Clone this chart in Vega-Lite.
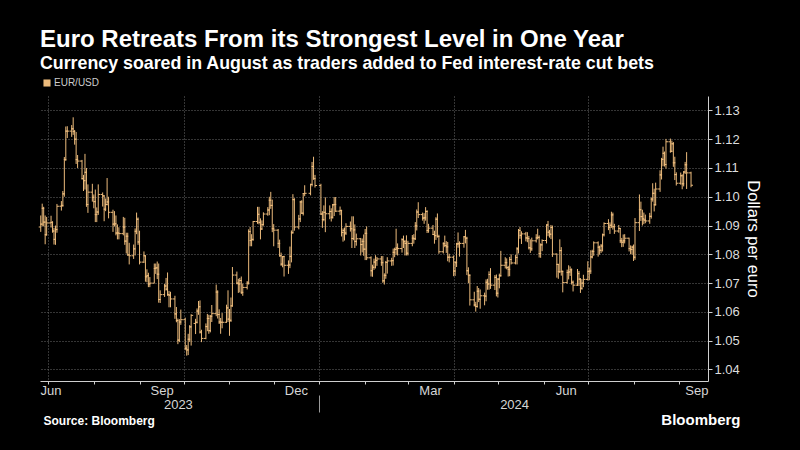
{
"$schema":"https://vega.github.io/schema/vega-lite/v6.json",
"width":668,"height":285,
"autosize":{"type":"none"},
"padding":{"left":40,"top":96,"right":92,"bottom":69},
"background":"#000000",
"title":{"text":"Euro Retreats From its Strongest Level in One Year","subtitle":"Currency soared in August as traders added to Fed interest-rate cut bets","anchor":"start","frame":"group","font":"Liberation Sans","fontSize":24,"fontWeight":"bold","color":"#ffffff","subtitleFont":"Liberation Sans","subtitleFontSize":17.8,"subtitleFontWeight":"bold","subtitleColor":"#ffffff","subtitlePadding":3,"offset":5},
"data":{"values":[
{"d":"2023-06-26","o":1.0895,"h":1.0935,"l":1.0878,"c":1.0905},
{"d":"2023-06-27","o":1.0905,"h":1.0976,"l":1.0898,"c":1.0960},
{"d":"2023-06-28","o":1.0960,"h":1.0965,"l":1.0897,"c":1.0912},
{"d":"2023-06-29","o":1.0912,"h":1.0935,"l":1.0835,"c":1.0868},
{"d":"2023-06-30","o":1.0868,"h":1.0930,"l":1.0865,"c":1.0909},
{"d":"2023-07-03","o":1.0909,"h":1.0934,"l":1.0893,"c":1.0911},
{"d":"2023-07-04","o":1.0911,"h":1.0915,"l":1.0875,"c":1.0881},
{"d":"2023-07-05","o":1.0881,"h":1.0892,"l":1.0834,"c":1.0852},
{"d":"2023-07-06","o":1.0852,"h":1.0900,"l":1.0833,"c":1.0886},
{"d":"2023-07-07","o":1.0886,"h":1.0975,"l":1.0875,"c":1.0967},
{"d":"2023-07-10","o":1.0967,"h":1.0985,"l":1.0952,"c":1.0970},
{"d":"2023-07-11","o":1.0970,"h":1.1020,"l":1.0965,"c":1.1010},
{"d":"2023-07-12","o":1.1010,"h":1.1138,"l":1.1000,"c":1.1129},
{"d":"2023-07-13","o":1.1129,"h":1.1244,"l":1.1125,"c":1.1228},
{"d":"2023-07-14","o":1.1228,"h":1.1245,"l":1.1204,"c":1.1228},
{"d":"2023-07-17","o":1.1228,"h":1.1249,"l":1.1208,"c":1.1236},
{"d":"2023-07-18","o":1.1236,"h":1.1276,"l":1.1215,"c":1.1227},
{"d":"2023-07-19","o":1.1227,"h":1.1232,"l":1.1181,"c":1.1200},
{"d":"2023-07-20","o":1.1200,"h":1.1225,"l":1.1114,"c":1.1129},
{"d":"2023-07-21","o":1.1129,"h":1.1145,"l":1.1100,"c":1.1124},
{"d":"2023-07-24","o":1.1124,"h":1.1128,"l":1.1060,"c":1.1063},
{"d":"2023-07-25","o":1.1063,"h":1.1076,"l":1.1020,"c":1.1056},
{"d":"2023-07-26","o":1.1056,"h":1.1149,"l":1.1025,"c":1.1085},
{"d":"2023-07-27","o":1.1085,"h":1.1100,"l":1.0965,"c":1.0973},
{"d":"2023-07-28","o":1.0973,"h":1.1043,"l":1.0944,"c":1.1016},
{"d":"2023-07-31","o":1.1016,"h":1.1045,"l":1.0983,"c":1.0998},
{"d":"2023-08-01","o":1.0998,"h":1.1008,"l":1.0960,"c":1.0983},
{"d":"2023-08-02","o":1.0983,"h":1.1025,"l":1.0912,"c":1.0938},
{"d":"2023-08-03","o":1.0938,"h":1.0963,"l":1.0912,"c":1.0947},
{"d":"2023-08-04","o":1.0947,"h":1.1043,"l":1.0937,"c":1.1008},
{"d":"2023-08-07","o":1.1008,"h":1.1015,"l":1.0966,"c":1.1003},
{"d":"2023-08-08","o":1.1003,"h":1.1005,"l":1.0915,"c":1.0957},
{"d":"2023-08-09","o":1.0957,"h":1.0994,"l":1.0950,"c":1.0973},
{"d":"2023-08-10","o":1.0973,"h":1.1065,"l":1.0970,"c":1.0982},
{"d":"2023-08-11","o":1.0982,"h":1.1000,"l":1.0925,"c":1.0946},
{"d":"2023-08-14","o":1.0946,"h":1.0955,"l":1.0878,"c":1.0905},
{"d":"2023-08-15","o":1.0905,"h":1.0950,"l":1.0897,"c":1.0906},
{"d":"2023-08-16","o":1.0906,"h":1.0935,"l":1.0866,"c":1.0874},
{"d":"2023-08-17","o":1.0874,"h":1.0904,"l":1.0852,"c":1.0874},
{"d":"2023-08-18","o":1.0874,"h":1.0894,"l":1.0852,"c":1.0872},
{"d":"2023-08-21","o":1.0872,"h":1.0930,"l":1.0866,"c":1.0895},
{"d":"2023-08-22","o":1.0895,"h":1.0927,"l":1.0833,"c":1.0846},
{"d":"2023-08-23","o":1.0846,"h":1.0875,"l":1.0803,"c":1.0863},
{"d":"2023-08-24","o":1.0863,"h":1.0875,"l":1.0795,"c":1.0798},
{"d":"2023-08-25","o":1.0798,"h":1.0840,"l":1.0765,"c":1.0795},
{"d":"2023-08-28","o":1.0795,"h":1.0834,"l":1.0784,"c":1.0819},
{"d":"2023-08-29","o":1.0819,"h":1.0890,"l":1.0796,"c":1.0880},
{"d":"2023-08-30","o":1.0880,"h":1.0945,"l":1.0870,"c":1.0922},
{"d":"2023-08-31","o":1.0922,"h":1.0928,"l":1.0833,"c":1.0843},
{"d":"2023-09-01","o":1.0843,"h":1.0882,"l":1.0765,"c":1.0773},
{"d":"2023-09-04","o":1.0773,"h":1.0810,"l":1.0770,"c":1.0795},
{"d":"2023-09-05","o":1.0795,"h":1.0796,"l":1.0705,"c":1.0722},
{"d":"2023-09-06","o":1.0722,"h":1.0748,"l":1.0703,"c":1.0726},
{"d":"2023-09-07","o":1.0726,"h":1.0736,"l":1.0686,"c":1.0697},
{"d":"2023-09-08","o":1.0697,"h":1.0721,"l":1.0686,"c":1.0700},
{"d":"2023-09-11","o":1.0700,"h":1.0768,"l":1.0699,"c":1.0751},
{"d":"2023-09-12","o":1.0751,"h":1.0768,"l":1.0732,"c":1.0753},
{"d":"2023-09-13","o":1.0753,"h":1.0775,"l":1.0714,"c":1.0731},
{"d":"2023-09-14","o":1.0731,"h":1.0768,"l":1.0632,"c":1.0643},
{"d":"2023-09-15","o":1.0643,"h":1.0675,"l":1.0631,"c":1.0660},
{"d":"2023-09-18","o":1.0660,"h":1.0697,"l":1.0652,"c":1.0690},
{"d":"2023-09-19","o":1.0690,"h":1.0718,"l":1.0674,"c":1.0679},
{"d":"2023-09-20","o":1.0679,"h":1.0737,"l":1.0656,"c":1.0660},
{"d":"2023-09-21","o":1.0660,"h":1.0673,"l":1.0616,"c":1.0658},
{"d":"2023-09-22","o":1.0658,"h":1.0670,"l":1.0616,"c":1.0645},
{"d":"2023-09-25","o":1.0645,"h":1.0656,"l":1.0576,"c":1.0593},
{"d":"2023-09-26","o":1.0593,"h":1.0617,"l":1.0564,"c":1.0570},
{"d":"2023-09-27","o":1.0570,"h":1.0577,"l":1.0488,"c":1.0502},
{"d":"2023-09-28","o":1.0502,"h":1.0575,"l":1.0495,"c":1.0565},
{"d":"2023-09-29","o":1.0565,"h":1.0608,"l":1.0555,"c":1.0573},
{"d":"2023-10-02","o":1.0573,"h":1.0580,"l":1.0467,"c":1.0474},
{"d":"2023-10-03","o":1.0474,"h":1.0485,"l":1.0448,"c":1.0468},
{"d":"2023-10-04","o":1.0468,"h":1.0524,"l":1.0450,"c":1.0505},
{"d":"2023-10-05","o":1.0505,"h":1.0554,"l":1.0496,"c":1.0548},
{"d":"2023-10-06","o":1.0548,"h":1.0592,"l":1.0483,"c":1.0588},
{"d":"2023-10-09","o":1.0560,"h":1.0576,"l":1.0523,"c":1.0564},
{"d":"2023-10-10","o":1.0564,"h":1.0612,"l":1.0560,"c":1.0603},
{"d":"2023-10-11","o":1.0603,"h":1.0638,"l":1.0590,"c":1.0618},
{"d":"2023-10-12","o":1.0618,"h":1.0640,"l":1.0525,"c":1.0530},
{"d":"2023-10-13","o":1.0530,"h":1.0538,"l":1.0495,"c":1.0508},
{"d":"2023-10-16","o":1.0508,"h":1.0560,"l":1.0505,"c":1.0549},
{"d":"2023-10-17","o":1.0549,"h":1.0593,"l":1.0533,"c":1.0577},
{"d":"2023-10-18","o":1.0577,"h":1.0590,"l":1.0524,"c":1.0535},
{"d":"2023-10-19","o":1.0535,"h":1.0589,"l":1.0529,"c":1.0585},
{"d":"2023-10-20","o":1.0585,"h":1.0624,"l":1.0565,"c":1.0594},
{"d":"2023-10-23","o":1.0594,"h":1.0695,"l":1.0585,"c":1.0669},
{"d":"2023-10-24","o":1.0669,"h":1.0675,"l":1.0577,"c":1.0591},
{"d":"2023-10-25","o":1.0591,"h":1.0609,"l":1.0558,"c":1.0565},
{"d":"2023-10-26","o":1.0565,"h":1.0579,"l":1.0524,"c":1.0564},
{"d":"2023-10-27","o":1.0564,"h":1.0596,"l":1.0543,"c":1.0564},
{"d":"2023-10-30","o":1.0564,"h":1.0625,"l":1.0562,"c":1.0614},
{"d":"2023-10-31","o":1.0614,"h":1.0675,"l":1.0565,"c":1.0575},
{"d":"2023-11-01","o":1.0575,"h":1.0610,"l":1.0517,"c":1.0571},
{"d":"2023-11-02","o":1.0571,"h":1.0650,"l":1.0565,"c":1.0621},
{"d":"2023-11-03","o":1.0621,"h":1.0756,"l":1.0618,"c":1.0728},
{"d":"2023-11-06","o":1.0728,"h":1.0740,"l":1.0696,"c":1.0700},
{"d":"2023-11-07","o":1.0700,"h":1.0715,"l":1.0666,"c":1.0697},
{"d":"2023-11-08","o":1.0697,"h":1.0718,"l":1.0668,"c":1.0709},
{"d":"2023-11-09","o":1.0709,"h":1.0723,"l":1.0662,"c":1.0668},
{"d":"2023-11-10","o":1.0668,"h":1.0698,"l":1.0656,"c":1.0685},
{"d":"2023-11-13","o":1.0685,"h":1.0707,"l":1.0678,"c":1.0700},
{"d":"2023-11-14","o":1.0700,"h":1.0887,"l":1.0695,"c":1.0879},
{"d":"2023-11-15","o":1.0879,"h":1.0895,"l":1.0828,"c":1.0848},
{"d":"2023-11-16","o":1.0848,"h":1.0870,"l":1.0828,"c":1.0852},
{"d":"2023-11-17","o":1.0852,"h":1.0916,"l":1.0847,"c":1.0914},
{"d":"2023-11-20","o":1.0914,"h":1.0965,"l":1.0906,"c":1.0939},
{"d":"2023-11-21","o":1.0939,"h":1.0965,"l":1.0904,"c":1.0911},
{"d":"2023-11-22","o":1.0911,"h":1.0925,"l":1.0852,"c":1.0888},
{"d":"2023-11-23","o":1.0888,"h":1.0918,"l":1.0885,"c":1.0903},
{"d":"2023-11-24","o":1.0903,"h":1.0946,"l":1.0900,"c":1.0940},
{"d":"2023-11-27","o":1.0940,"h":1.0964,"l":1.0934,"c":1.0954},
{"d":"2023-11-28","o":1.0954,"h":1.1000,"l":1.0936,"c":1.0988},
{"d":"2023-11-29","o":1.0988,"h":1.1017,"l":1.0958,"c":1.0970},
{"d":"2023-11-30","o":1.0970,"h":1.0990,"l":1.0877,"c":1.0889},
{"d":"2023-12-01","o":1.0889,"h":1.0905,"l":1.0828,"c":1.0884},
{"d":"2023-12-04","o":1.0884,"h":1.0888,"l":1.0822,"c":1.0838},
{"d":"2023-12-05","o":1.0838,"h":1.0851,"l":1.0792,"c":1.0795},
{"d":"2023-12-06","o":1.0795,"h":1.0806,"l":1.0760,"c":1.0766},
{"d":"2023-12-07","o":1.0766,"h":1.0794,"l":1.0755,"c":1.0792},
{"d":"2023-12-08","o":1.0792,"h":1.0795,"l":1.0723,"c":1.0762},
{"d":"2023-12-11","o":1.0762,"h":1.0779,"l":1.0732,"c":1.0763},
{"d":"2023-12-12","o":1.0763,"h":1.0827,"l":1.0752,"c":1.0793},
{"d":"2023-12-13","o":1.0793,"h":1.0883,"l":1.0772,"c":1.0875},
{"d":"2023-12-14","o":1.0875,"h":1.1009,"l":1.0872,"c":1.0990},
{"d":"2023-12-15","o":1.0990,"h":1.0995,"l":1.0882,"c":1.0895},
{"d":"2023-12-18","o":1.0895,"h":1.0937,"l":1.0887,"c":1.0923},
{"d":"2023-12-19","o":1.0923,"h":1.0986,"l":1.0912,"c":1.0982},
{"d":"2023-12-20","o":1.0982,"h":1.0988,"l":1.0940,"c":1.0943},
{"d":"2023-12-21","o":1.0943,"h":1.1013,"l":1.0935,"c":1.1011},
{"d":"2023-12-22","o":1.1011,"h":1.1040,"l":1.1002,"c":1.1012},
{"d":"2023-12-26","o":1.1012,"h":1.1045,"l":1.1005,"c":1.1043},
{"d":"2023-12-27","o":1.1043,"h":1.1121,"l":1.1036,"c":1.1105},
{"d":"2023-12-28","o":1.1105,"h":1.1139,"l":1.1059,"c":1.1063},
{"d":"2023-12-29","o":1.1063,"h":1.1076,"l":1.1032,"c":1.1039},
{"d":"2024-01-02","o":1.1039,"h":1.1045,"l":1.0937,"c":1.0940},
{"d":"2024-01-03","o":1.0940,"h":1.0950,"l":1.0892,"c":1.0921},
{"d":"2024-01-04","o":1.0921,"h":1.0970,"l":1.0915,"c":1.0946},
{"d":"2024-01-05","o":1.0946,"h":1.0998,"l":1.0877,"c":1.0941},
{"d":"2024-01-08","o":1.0941,"h":1.0970,"l":1.0922,"c":1.0949},
{"d":"2024-01-09","o":1.0949,"h":1.0960,"l":1.0914,"c":1.0929},
{"d":"2024-01-10","o":1.0929,"h":1.0975,"l":1.0924,"c":1.0972},
{"d":"2024-01-11","o":1.0972,"h":1.0999,"l":1.0933,"c":1.0973},
{"d":"2024-01-12","o":1.0973,"h":1.0999,"l":1.0947,"c":1.0950},
{"d":"2024-01-15","o":1.0950,"h":1.0966,"l":1.0936,"c":1.0952},
{"d":"2024-01-16","o":1.0952,"h":1.0955,"l":1.0862,"c":1.0876},
{"d":"2024-01-17","o":1.0876,"h":1.0890,"l":1.0844,"c":1.0883},
{"d":"2024-01-18","o":1.0883,"h":1.0893,"l":1.0848,"c":1.0874},
{"d":"2024-01-19","o":1.0874,"h":1.0908,"l":1.0867,"c":1.0897},
{"d":"2024-01-22","o":1.0897,"h":1.0914,"l":1.0879,"c":1.0889},
{"d":"2024-01-23","o":1.0889,"h":1.0932,"l":1.0822,"c":1.0855},
{"d":"2024-01-24","o":1.0855,"h":1.0932,"l":1.0849,"c":1.0885},
{"d":"2024-01-25","o":1.0885,"h":1.0904,"l":1.0822,"c":1.0845},
{"d":"2024-01-26","o":1.0845,"h":1.0872,"l":1.0830,"c":1.0854},
{"d":"2024-01-29","o":1.0854,"h":1.0857,"l":1.0796,"c":1.0834},
{"d":"2024-01-30","o":1.0834,"h":1.0855,"l":1.0807,"c":1.0845},
{"d":"2024-01-31","o":1.0845,"h":1.0869,"l":1.0795,"c":1.0818},
{"d":"2024-02-01","o":1.0818,"h":1.0888,"l":1.0780,"c":1.0873},
{"d":"2024-02-02","o":1.0873,"h":1.0897,"l":1.0780,"c":1.0788},
{"d":"2024-02-05","o":1.0788,"h":1.0793,"l":1.0723,"c":1.0743},
{"d":"2024-02-06","o":1.0743,"h":1.0764,"l":1.0722,"c":1.0755},
{"d":"2024-02-07","o":1.0755,"h":1.0785,"l":1.0746,"c":1.0773},
{"d":"2024-02-08","o":1.0773,"h":1.0797,"l":1.0751,"c":1.0779},
{"d":"2024-02-09","o":1.0779,"h":1.0791,"l":1.0760,"c":1.0784},
{"d":"2024-02-12","o":1.0784,"h":1.0794,"l":1.0760,"c":1.0771},
{"d":"2024-02-13","o":1.0771,"h":1.0794,"l":1.0701,"c":1.0708},
{"d":"2024-02-14","o":1.0708,"h":1.0734,"l":1.0695,"c":1.0727},
{"d":"2024-02-15","o":1.0727,"h":1.0777,"l":1.0715,"c":1.0772},
{"d":"2024-02-16","o":1.0772,"h":1.0790,"l":1.0733,"c":1.0777},
{"d":"2024-02-19","o":1.0777,"h":1.0788,"l":1.0760,"c":1.0778},
{"d":"2024-02-20","o":1.0778,"h":1.0820,"l":1.0761,"c":1.0807},
{"d":"2024-02-21","o":1.0807,"h":1.0823,"l":1.0790,"c":1.0817},
{"d":"2024-02-22","o":1.0817,"h":1.0889,"l":1.0799,"c":1.0822},
{"d":"2024-02-23","o":1.0822,"h":1.0838,"l":1.0796,"c":1.0820},
{"d":"2024-02-26","o":1.0820,"h":1.0856,"l":1.0806,"c":1.0851},
{"d":"2024-02-27","o":1.0851,"h":1.0865,"l":1.0822,"c":1.0844},
{"d":"2024-02-28","o":1.0844,"h":1.0850,"l":1.0796,"c":1.0838},
{"d":"2024-02-29","o":1.0838,"h":1.0866,"l":1.0796,"c":1.0804},
{"d":"2024-03-01","o":1.0804,"h":1.0847,"l":1.0796,"c":1.0838},
{"d":"2024-03-04","o":1.0838,"h":1.0867,"l":1.0828,"c":1.0856},
{"d":"2024-03-05","o":1.0856,"h":1.0870,"l":1.0837,"c":1.0854},
{"d":"2024-03-06","o":1.0854,"h":1.0912,"l":1.0850,"c":1.0899},
{"d":"2024-03-07","o":1.0899,"h":1.0956,"l":1.0883,"c":1.0947},
{"d":"2024-03-08","o":1.0947,"h":1.0981,"l":1.0926,"c":1.0938},
{"d":"2024-03-11","o":1.0938,"h":1.0945,"l":1.0917,"c":1.0926},
{"d":"2024-03-12","o":1.0926,"h":1.0943,"l":1.0906,"c":1.0927},
{"d":"2024-03-13","o":1.0927,"h":1.0964,"l":1.0917,"c":1.0949},
{"d":"2024-03-14","o":1.0949,"h":1.0953,"l":1.0874,"c":1.0883},
{"d":"2024-03-15","o":1.0883,"h":1.0906,"l":1.0875,"c":1.0891},
{"d":"2024-03-18","o":1.0891,"h":1.0902,"l":1.0867,"c":1.0869},
{"d":"2024-03-19","o":1.0869,"h":1.0882,"l":1.0837,"c":1.0865},
{"d":"2024-03-20","o":1.0865,"h":1.0929,"l":1.0850,"c":1.0922},
{"d":"2024-03-21","o":1.0922,"h":1.0942,"l":1.0858,"c":1.0862},
{"d":"2024-03-22","o":1.0862,"h":1.0868,"l":1.0802,"c":1.0809},
{"d":"2024-03-25","o":1.0809,"h":1.0842,"l":1.0803,"c":1.0837},
{"d":"2024-03-26","o":1.0837,"h":1.0865,"l":1.0825,"c":1.0831},
{"d":"2024-03-27","o":1.0831,"h":1.0846,"l":1.0805,"c":1.0826},
{"d":"2024-03-28","o":1.0826,"h":1.0843,"l":1.0776,"c":1.0790},
{"d":"2024-03-29","o":1.0790,"h":1.0802,"l":1.0772,"c":1.0790},
{"d":"2024-04-01","o":1.0790,"h":1.0796,"l":1.0724,"c":1.0742},
{"d":"2024-04-02","o":1.0742,"h":1.0777,"l":1.0725,"c":1.0771},
{"d":"2024-04-03","o":1.0771,"h":1.0840,"l":1.0756,"c":1.0836},
{"d":"2024-04-04","o":1.0836,"h":1.0876,"l":1.0823,"c":1.0837},
{"d":"2024-04-05","o":1.0837,"h":1.0845,"l":1.0792,"c":1.0838},
{"d":"2024-04-08","o":1.0838,"h":1.0863,"l":1.0823,"c":1.0861},
{"d":"2024-04-09","o":1.0861,"h":1.0885,"l":1.0838,"c":1.0856},
{"d":"2024-04-10","o":1.0856,"h":1.0861,"l":1.0728,"c":1.0743},
{"d":"2024-04-11","o":1.0743,"h":1.0755,"l":1.0700,"c":1.0727},
{"d":"2024-04-12","o":1.0727,"h":1.0731,"l":1.0622,"c":1.0642},
{"d":"2024-04-15","o":1.0642,"h":1.0670,"l":1.0619,"c":1.0624},
{"d":"2024-04-16","o":1.0624,"h":1.0635,"l":1.0601,"c":1.0619},
{"d":"2024-04-17","o":1.0619,"h":1.0690,"l":1.0615,"c":1.0672},
{"d":"2024-04-18","o":1.0672,"h":1.0683,"l":1.0634,"c":1.0644},
{"d":"2024-04-19","o":1.0644,"h":1.0678,"l":1.0611,"c":1.0656},
{"d":"2024-04-22","o":1.0656,"h":1.0667,"l":1.0623,"c":1.0655},
{"d":"2024-04-23","o":1.0655,"h":1.0713,"l":1.0637,"c":1.0703},
{"d":"2024-04-24","o":1.0703,"h":1.0715,"l":1.0677,"c":1.0697},
{"d":"2024-04-25","o":1.0697,"h":1.0741,"l":1.0677,"c":1.0730},
{"d":"2024-04-26","o":1.0730,"h":1.0752,"l":1.0680,"c":1.0693},
{"d":"2024-04-29","o":1.0693,"h":1.0728,"l":1.0676,"c":1.0720},
{"d":"2024-04-30","o":1.0720,"h":1.0730,"l":1.0654,"c":1.0665},
{"d":"2024-05-01","o":1.0665,"h":1.0717,"l":1.0650,"c":1.0714},
{"d":"2024-05-02","o":1.0714,"h":1.0733,"l":1.0682,"c":1.0726},
{"d":"2024-05-03","o":1.0726,"h":1.0812,"l":1.0722,"c":1.0762},
{"d":"2024-05-06","o":1.0762,"h":1.0790,"l":1.0751,"c":1.0771},
{"d":"2024-05-07","o":1.0771,"h":1.0786,"l":1.0748,"c":1.0754},
{"d":"2024-05-08","o":1.0754,"h":1.0760,"l":1.0723,"c":1.0748},
{"d":"2024-05-09","o":1.0748,"h":1.0791,"l":1.0724,"c":1.0782},
{"d":"2024-05-10","o":1.0782,"h":1.0800,"l":1.0765,"c":1.0770},
{"d":"2024-05-13","o":1.0770,"h":1.0798,"l":1.0765,"c":1.0789},
{"d":"2024-05-14","o":1.0789,"h":1.0825,"l":1.0765,"c":1.0819},
{"d":"2024-05-15","o":1.0819,"h":1.0888,"l":1.0803,"c":1.0883},
{"d":"2024-05-16","o":1.0883,"h":1.0895,"l":1.0854,"c":1.0866},
{"d":"2024-05-17","o":1.0866,"h":1.0880,"l":1.0836,"c":1.0871},
{"d":"2024-05-20","o":1.0871,"h":1.0878,"l":1.0845,"c":1.0857},
{"d":"2024-05-21","o":1.0857,"h":1.0877,"l":1.0842,"c":1.0855},
{"d":"2024-05-22","o":1.0855,"h":1.0864,"l":1.0817,"c":1.0823},
{"d":"2024-05-23","o":1.0823,"h":1.0852,"l":1.0805,"c":1.0819},
{"d":"2024-05-24","o":1.0819,"h":1.0858,"l":1.0812,"c":1.0847},
{"d":"2024-05-27","o":1.0847,"h":1.0870,"l":1.0841,"c":1.0857},
{"d":"2024-05-28","o":1.0857,"h":1.0889,"l":1.0852,"c":1.0859},
{"d":"2024-05-29","o":1.0859,"h":1.0866,"l":1.0789,"c":1.0803},
{"d":"2024-05-30","o":1.0803,"h":1.0838,"l":1.0788,"c":1.0833},
{"d":"2024-05-31","o":1.0833,"h":1.0852,"l":1.0811,"c":1.0848},
{"d":"2024-06-03","o":1.0848,"h":1.0904,"l":1.0838,"c":1.0902},
{"d":"2024-06-04","o":1.0902,"h":1.0916,"l":1.0863,"c":1.0877},
{"d":"2024-06-05","o":1.0877,"h":1.0885,"l":1.0858,"c":1.0870},
{"d":"2024-06-06","o":1.0870,"h":1.0902,"l":1.0853,"c":1.0893},
{"d":"2024-06-07","o":1.0893,"h":1.0900,"l":1.0791,"c":1.0801},
{"d":"2024-06-10","o":1.0801,"h":1.0803,"l":1.0719,"c":1.0765},
{"d":"2024-06-11","o":1.0765,"h":1.0767,"l":1.0715,"c":1.0740},
{"d":"2024-06-12","o":1.0740,"h":1.0852,"l":1.0735,"c":1.0813},
{"d":"2024-06-13","o":1.0813,"h":1.0825,"l":1.0726,"c":1.0741},
{"d":"2024-06-14","o":1.0741,"h":1.0743,"l":1.0668,"c":1.0702},
{"d":"2024-06-17","o":1.0702,"h":1.0747,"l":1.0698,"c":1.0737},
{"d":"2024-06-18","o":1.0737,"h":1.0762,"l":1.0713,"c":1.0739},
{"d":"2024-06-19","o":1.0739,"h":1.0758,"l":1.0725,"c":1.0746},
{"d":"2024-06-20","o":1.0746,"h":1.0751,"l":1.0695,"c":1.0703},
{"d":"2024-06-21","o":1.0703,"h":1.0709,"l":1.0671,"c":1.0693},
{"d":"2024-06-24","o":1.0693,"h":1.0749,"l":1.0690,"c":1.0733},
{"d":"2024-06-25","o":1.0733,"h":1.0742,"l":1.0690,"c":1.0714},
{"d":"2024-06-26","o":1.0714,"h":1.0717,"l":1.0666,"c":1.0682},
{"d":"2024-06-27","o":1.0682,"h":1.0714,"l":1.0677,"c":1.0700},
{"d":"2024-06-28","o":1.0700,"h":1.0729,"l":1.0686,"c":1.0713},
{"d":"2024-07-01","o":1.0713,"h":1.0776,"l":1.0709,"c":1.0740},
{"d":"2024-07-02","o":1.0740,"h":1.0754,"l":1.0710,"c":1.0742},
{"d":"2024-07-03","o":1.0742,"h":1.0814,"l":1.0732,"c":1.0791},
{"d":"2024-07-04","o":1.0791,"h":1.0816,"l":1.0786,"c":1.0810},
{"d":"2024-07-05","o":1.0810,"h":1.0845,"l":1.0795,"c":1.0840},
{"d":"2024-07-08","o":1.0840,"h":1.0845,"l":1.0792,"c":1.0825},
{"d":"2024-07-09","o":1.0825,"h":1.0830,"l":1.0799,"c":1.0814},
{"d":"2024-07-10","o":1.0814,"h":1.0836,"l":1.0805,"c":1.0829},
{"d":"2024-07-11","o":1.0829,"h":1.0872,"l":1.0810,"c":1.0868},
{"d":"2024-07-12","o":1.0868,"h":1.0911,"l":1.0862,"c":1.0907},
{"d":"2024-07-15","o":1.0907,"h":1.0922,"l":1.0884,"c":1.0894},
{"d":"2024-07-16","o":1.0894,"h":1.0911,"l":1.0871,"c":1.0901},
{"d":"2024-07-17","o":1.0901,"h":1.0948,"l":1.0892,"c":1.0937},
{"d":"2024-07-18","o":1.0937,"h":1.0945,"l":1.0886,"c":1.0896},
{"d":"2024-07-19","o":1.0896,"h":1.0906,"l":1.0871,"c":1.0881},
{"d":"2024-07-22","o":1.0881,"h":1.0902,"l":1.0875,"c":1.0890},
{"d":"2024-07-23","o":1.0890,"h":1.0891,"l":1.0839,"c":1.0847},
{"d":"2024-07-24","o":1.0847,"h":1.0857,"l":1.0825,"c":1.0842},
{"d":"2024-07-25","o":1.0842,"h":1.0869,"l":1.0826,"c":1.0847},
{"d":"2024-07-26","o":1.0847,"h":1.0870,"l":1.0838,"c":1.0856},
{"d":"2024-07-29","o":1.0856,"h":1.0858,"l":1.0810,"c":1.0820},
{"d":"2024-07-30","o":1.0820,"h":1.0831,"l":1.0801,"c":1.0817},
{"d":"2024-07-31","o":1.0817,"h":1.0830,"l":1.0799,"c":1.0825},
{"d":"2024-08-01","o":1.0825,"h":1.0834,"l":1.0777,"c":1.0790},
{"d":"2024-08-02","o":1.0790,"h":1.0926,"l":1.0781,"c":1.0910},
{"d":"2024-08-05","o":1.0910,"h":1.1008,"l":1.0881,"c":1.0955},
{"d":"2024-08-06","o":1.0955,"h":1.0983,"l":1.0916,"c":1.0931},
{"d":"2024-08-07","o":1.0931,"h":1.0955,"l":1.0900,"c":1.0923},
{"d":"2024-08-08","o":1.0923,"h":1.0945,"l":1.0905,"c":1.0919},
{"d":"2024-08-09","o":1.0919,"h":1.0938,"l":1.0908,"c":1.0916},
{"d":"2024-08-12","o":1.0916,"h":1.0944,"l":1.0906,"c":1.0932},
{"d":"2024-08-13","o":1.0932,"h":1.0997,"l":1.0924,"c":1.0992},
{"d":"2024-08-14","o":1.0992,"h":1.1047,"l":1.0983,"c":1.1012},
{"d":"2024-08-15","o":1.1012,"h":1.1028,"l":1.0949,"c":1.0972},
{"d":"2024-08-16","o":1.0972,"h":1.1049,"l":1.0970,"c":1.1027},
{"d":"2024-08-19","o":1.1027,"h":1.1092,"l":1.1017,"c":1.1076},
{"d":"2024-08-20","o":1.1076,"h":1.1135,"l":1.1060,"c":1.1130},
{"d":"2024-08-21","o":1.1130,"h":1.1174,"l":1.1106,"c":1.1151},
{"d":"2024-08-22","o":1.1151,"h":1.1157,"l":1.1105,"c":1.1112},
{"d":"2024-08-23","o":1.1112,"h":1.1201,"l":1.1098,"c":1.1191},
{"d":"2024-08-26","o":1.1191,"h":1.1202,"l":1.1153,"c":1.1158},
{"d":"2024-08-27","o":1.1158,"h":1.1195,"l":1.1155,"c":1.1184},
{"d":"2024-08-28","o":1.1184,"h":1.1190,"l":1.1104,"c":1.1118},
{"d":"2024-08-29","o":1.1118,"h":1.1139,"l":1.1058,"c":1.1077},
{"d":"2024-08-30","o":1.1077,"h":1.1085,"l":1.1039,"c":1.1047},
{"d":"2024-09-02","o":1.1047,"h":1.1084,"l":1.1042,"c":1.1073},
{"d":"2024-09-03","o":1.1073,"h":1.1078,"l":1.1026,"c":1.1045},
{"d":"2024-09-04","o":1.1045,"h":1.1089,"l":1.1036,"c":1.1086},
{"d":"2024-09-05","o":1.1086,"h":1.1121,"l":1.1079,"c":1.1111},
{"d":"2024-09-06","o":1.1111,"h":1.1155,"l":1.1027,"c":1.1083},
{"d":"2024-09-09","o":1.1083,"h":1.1087,"l":1.1033,"c":1.1040}
]},
"layer":[
{"mark":{"type":"rule","color":"#ecbb7c","strokeWidth":1},
 "encoding":{
  "x":{"field":"d","type":"temporal",
   "scale":{"type":"utc","domain":[{"year":2023,"month":6,"date":25,"hours":12,"utc":true},{"year":2024,"month":9,"date":20,"hours":12,"utc":true}]},
   "axis":{"orient":"bottom","offset":0,
    "values":[{"year":2023,"month":7,"date":1,"utc":true},{"year":2023,"month":8,"date":1,"utc":true},{"year":2023,"month":9,"date":1,"utc":true},{"year":2023,"month":10,"date":1,"utc":true},{"year":2023,"month":11,"date":1,"utc":true},{"year":2023,"month":12,"date":1,"utc":true},{"year":2024,"month":1,"date":1,"utc":true},{"year":2024,"month":2,"date":1,"utc":true},{"year":2024,"month":3,"date":1,"utc":true},{"year":2024,"month":4,"date":1,"utc":true},{"year":2024,"month":5,"date":1,"utc":true},{"year":2024,"month":6,"date":1,"utc":true},{"year":2024,"month":7,"date":1,"utc":true},{"year":2024,"month":8,"date":1,"utc":true},{"year":2024,"month":9,"date":1,"utc":true}],
    "labels":false,"ticks":true,"tickSize":3,"tickColor":"#cfcfcf","domain":true,"domainColor":"#cfcfcf",
    "grid":true,"gridColor":"#6a6a6a","gridDash":[1,2],
    "gridOpacity":{"condition":{"test":"utcmonth(datum.value) % 3 == 0","value":1},"value":0},
    "title":"Bloomberg","titleAnchor":"end","titleAlign":"right","titleX":700,"titleY":43,"titleBaseline":"alphabetic",
    "titleFont":"Liberation Sans","titleFontSize":15,"titleFontWeight":"bold","titleColor":"#ffffff"}},
  "y":{"field":"l","type":"quantitative",
   "scale":{"domain":[1.036,1.135],"nice":false,"zero":false},
   "axis":{"orient":"right",
    "values":[1.04,1.05,1.06,1.07,1.08,1.09,1.1,1.11,1.12,1.13],
    "format":".2f","labelOverlap":false,"tickCount":10,
    "grid":true,"gridColor":"#6a6a6a","gridDash":[1,2],
    "tickSize":4,"tickColor":"#cfcfcf","domainColor":"#cfcfcf",
    "labelFont":"Liberation Sans","labelFontSize":13,"labelColor":"#dddddd","labelPadding":2,
    "title":"Dollars per euro","titleFont":"Liberation Sans","titleFontSize":16.5,"titleFontWeight":"normal","titleColor":"#ffffff","titlePadding":5}},
  "y2":{"field":"h"}}},
{"mark":{"type":"tick","orient":"horizontal","size":2,"thickness":1,"xOffset":-1,"opacity":1},
 "encoding":{
  "x":{"field":"d","type":"temporal",
   "axis":{"orient":"bottom","offset":0,
    "values":[{"year":2023,"month":6,"date":25,"hours":12,"utc":true},{"year":2023,"month":9,"date":16,"utc":true},{"year":2023,"month":12,"date":16,"utc":true},{"year":2024,"month":3,"date":16,"utc":true},{"year":2024,"month":6,"date":16,"utc":true},{"year":2024,"month":9,"date":20,"hours":12,"utc":true}],
    "labelExpr":"utcFormat(datum.value, '%b')","labelFlush":true,
    "ticks":false,"domain":false,"grid":false,"labelPadding":3,
    "labelFont":"Liberation Sans","labelFontSize":13,"labelColor":"#d6d6d6","title":null}},
  "y":{"field":"o","type":"quantitative",
   "axis":{"orient":"right",
    "values":[1.04,1.05,1.06,1.07,1.08,1.09,1.1,1.11,1.12,1.13],
    "format":".2f","labelOverlap":false,"tickCount":10,
    "grid":true,"gridColor":"#6a6a6a","gridDash":[1,2],
    "tickSize":4,"tickColor":"#cfcfcf","domainColor":"#cfcfcf",
    "labelFont":"Liberation Sans","labelFontSize":13,"labelColor":"#dddddd","labelPadding":2,
    "title":"Dollars per euro","titleFont":"Liberation Sans","titleFontSize":16.5,"titleFontWeight":"normal","titleColor":"#ffffff","titlePadding":5}},
  "color":{"datum":"EUR/USD","type":"nominal","scale":{"range":["#ecbb7c"]},
   "legend":{"orient":"none","legendX":2,"legendY":-18,"title":null,"symbolType":"square","symbolSize":50,"symbolStrokeWidth":0,"symbolOpacity":1,"labelFont":"Liberation Sans","labelFontSize":10,"labelColor":"#cccccc","labelOffset":2,"padding":0,
    "encode":{"symbols":{"enter":{"fill":{"value":"#f5a54a"},"fillOpacity":{"value":1}},"update":{"fill":{"value":"#f5a54a"},"stroke":{"value":"#f5a54a"},"opacity":{"value":1},"fillOpacity":{"value":1}}}}}}}},
{"mark":{"type":"tick","orient":"horizontal","size":2,"thickness":1,"xOffset":1,"opacity":1},
 "encoding":{
  "x":{"field":"d","type":"temporal",
   "axis":{"orient":"bottom","offset":14,
    "values":[{"year":2023,"month":9,"date":27,"utc":true},{"year":2024,"month":1,"date":1,"utc":true},{"year":2024,"month":5,"date":12,"utc":true}],
    "labelExpr":"utcmonth(datum.value) == 0 ? '' : utcFormat(datum.value, '%Y')",
    "ticks":true,"tickSize":17,"tickColor":"#9a9a9a",
    "tickOpacity":{"condition":{"test":"utcmonth(datum.value) == 0","value":1},"value":0},
    "domain":false,"grid":false,"labelPadding":-14,
    "labelFont":"Liberation Sans","labelFontSize":13,"labelColor":"#d6d6d6",
    "title":"Source: Bloomberg","titleAnchor":"start","titleAlign":"left","titleX":3,"titleY":29,"titleBaseline":"alphabetic",
    "titleFont":"Liberation Sans","titleFontSize":12,"titleFontWeight":"bold","titleColor":"#ffffff"}},
  "y":{"field":"c","type":"quantitative",
   "axis":{"orient":"right",
    "values":[1.04,1.05,1.06,1.07,1.08,1.09,1.1,1.11,1.12,1.13],
    "format":".2f","labelOverlap":false,"tickCount":10,
    "grid":true,"gridColor":"#6a6a6a","gridDash":[1,2],
    "tickSize":4,"tickColor":"#cfcfcf","domainColor":"#cfcfcf",
    "labelFont":"Liberation Sans","labelFontSize":13,"labelColor":"#dddddd","labelPadding":2,
    "title":"Dollars per euro","titleFont":"Liberation Sans","titleFontSize":16.5,"titleFontWeight":"normal","titleColor":"#ffffff","titlePadding":5}},
  "color":{"datum":"EUR/USD","type":"nominal"}}}
],
"resolve":{"axis":{"x":"independent"}},
"config":{"view":{"stroke":null},"font":"Liberation Sans"}
}
